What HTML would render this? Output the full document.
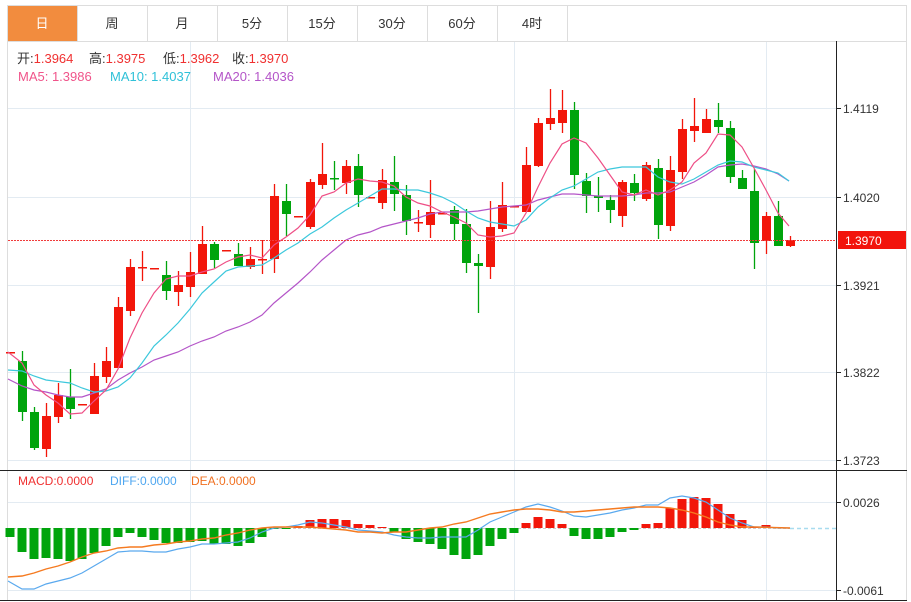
<!DOCTYPE html>
<html><head><meta charset="utf-8"><style>
body{margin:0;background:#fff;width:911px;height:602px;overflow:hidden;font-family:"Liberation Sans","Noto Sans CJK SC",sans-serif;}
svg{position:absolute;left:0;top:0}
</style></head><body>
<svg id="s" width="911" height="602" xmlns="http://www.w3.org/2000/svg" font-family="Liberation Sans, Noto Sans CJK SC, sans-serif">
<rect x="7.5" y="5.5" width="899" height="36" fill="#fff" stroke="#ddd"/>
<rect x="8" y="6" width="69" height="35" fill="#f28c3e"/>
<g stroke="#ddd"><line x1="77.5" y1="5" x2="77.5" y2="41"/><line x1="147.5" y1="5" x2="147.5" y2="41"/><line x1="217.5" y1="5" x2="217.5" y2="41"/><line x1="287.5" y1="5" x2="287.5" y2="41"/><line x1="357.5" y1="5" x2="357.5" y2="41"/><line x1="427.5" y1="5" x2="427.5" y2="41"/><line x1="497.5" y1="5" x2="497.5" y2="41"/><line x1="567.5" y1="5" x2="567.5" y2="41"/></g>
<g font-size="13" text-anchor="middle" fill="#333"><text x="42" y="28" fill="#fff">日</text><text x="112" y="28">周</text><text x="182" y="28">月</text><text x="252" y="28">5分</text><text x="322" y="28">15分</text><text x="392" y="28">30分</text><text x="462" y="28">60分</text><text x="532" y="28">4时</text></g>
<line x1="7.5" y1="41" x2="7.5" y2="600" stroke="#ddd"/>
<line x1="906.5" y1="41" x2="906.5" y2="600" stroke="#ddd"/>
<g stroke="#e3ebf2"><line x1="8" y1="108.5" x2="836" y2="108.5"/><line x1="8" y1="197.5" x2="836" y2="197.5"/><line x1="8" y1="285.5" x2="836" y2="285.5"/><line x1="8" y1="372.5" x2="836" y2="372.5"/><line x1="8" y1="460.5" x2="836" y2="460.5"/><line x1="8" y1="502.5" x2="836" y2="502.5"/><line x1="8" y1="590.5" x2="836" y2="590.5"/>
<line x1="190.5" y1="42" x2="190.5" y2="600"/><line x1="514.5" y1="42" x2="514.5" y2="600"/><line x1="766.5" y1="42" x2="766.5" y2="600"/></g>
<line x1="8" y1="528.5" x2="790" y2="528.5" stroke="#ccc" stroke-dasharray="3,2"/>
<line x1="790" y1="528.5" x2="836" y2="528.5" stroke="#a8dcef" stroke-width="1.5" stroke-dasharray="4,3"/>
<g id="g"></g>
<line x1="8" y1="240.5" x2="836" y2="240.5" stroke="#f03c3c" stroke-dasharray="2,1"/>
<line x1="0" y1="470.5" x2="907" y2="470.5" stroke="#222"/>
<line x1="0" y1="600.5" x2="907" y2="600.5" stroke="#222"/>
<line x1="836.5" y1="41" x2="836.5" y2="601" stroke="#222"/>
<g stroke="#222"><line x1="836" y1="108.5" x2="841" y2="108.5"/><line x1="836" y1="197.5" x2="841" y2="197.5"/><line x1="836" y1="285.5" x2="841" y2="285.5"/><line x1="836" y1="372.5" x2="841" y2="372.5"/><line x1="836" y1="460.5" x2="841" y2="460.5"/><line x1="836" y1="502.5" x2="841" y2="502.5"/><line x1="836" y1="590.5" x2="841" y2="590.5"/></g>
<g font-size="12" fill="#333"><text x="843" y="113">1.4119</text><text x="843" y="202">1.4020</text><text x="843" y="290">1.3921</text><text x="843" y="377">1.3822</text><text x="843" y="465">1.3723</text><text x="843" y="507">0.0026</text><text x="843" y="595">-0.0061</text></g>
<rect x="838" y="231" width="68" height="18" fill="#f2140c"/>
<text x="845" y="245" font-size="12" fill="#fff">1.3970</text>
<g font-size="13">
<text x="17" y="63" fill="#333">开:<tspan fill="#f03030">1.3964</tspan></text>
<text x="89" y="63" fill="#333">高:<tspan fill="#f03030">1.3975</tspan></text>
<text x="163" y="63" fill="#333">低:<tspan fill="#f03030">1.3962</tspan></text>
<text x="232" y="63" fill="#333">收:<tspan fill="#f03030">1.3970</tspan></text>
<text x="18" y="81" fill="#f0548a">MA5: 1.3986</text>
<text x="110" y="81" fill="#2fc1d8">MA10: 1.4037</text>
<text x="213" y="81" fill="#b455c8">MA20: 1.4036</text>
</g>
<g font-size="12">
<text x="18" y="485" fill="#f03030">MACD:0.0000</text>
<text x="110" y="485" fill="#4da6f0">DIFF:0.0000</text>
<text x="191" y="485" fill="#f07020">DEA:0.0000</text>
</g>
</svg>
<script>
var R="#f2160a",G="#00a40c";
var C=[[352,353,352,353,R],[361,412,351,421,G],[412,448,407,450,G],[416,449,403,457,R],[395,417,383,423,R],[397,409,369,419,G],[404,405,404,405,R],[376,414,363,414,R],[361,377,347,383,R],[307,368,297,368,R],[267,311,259,316,R],[267,268,251,281,R],[268,269,268,269,R],[275,291,261,300,G],[285,292,271,306,R],[272,287,252,297,R],[244,274,226,274,R],[244,260,242,268,G],[250,251,250,251,R],[254,266,243,266,G],[259,267,247,269,R],[259,260,240,274,R],[196,259,184,273,R],[201,214,184,236,G],[216,217,216,217,R],[182,227,179,229,R],[174,185,143,189,R],[178,179,161,190,G],[166,183,160,194,R],[166,195,154,207,G],[197,198,197,198,R],[180,203,169,209,R],[182,194,156,211,G],[195,221,185,235,G],[222,223,210,232,R],[212,225,180,238,R],[213,214,213,214,R],[210,224,206,240,G],[224,263,209,273,G],[263,266,254,313,G],[227,267,201,279,R],[205,229,182,232,R],[206,207,206,207,R],[165,212,147,212,R],[123,166,118,167,R],[118,124,89,130,R],[110,123,90,133,R],[110,175,102,189,G],[181,196,173,213,G],[196,198,177,212,G],[200,210,195,223,G],[182,216,180,227,R],[183,193,174,201,G],[165,199,162,201,R],[168,225,159,239,G],[170,226,156,231,R],[129,172,119,179,R],[126,131,98,142,R],[119,133,109,133,R],[120,127,103,133,G],[128,177,121,183,G],[178,189,170,189,G],[191,243,169,269,G],[216,241,212,254,R],[216,246,201,246,G],[240,246,236,247,R]];
var M=[537,552,559,558,559,561,559,553,546,537,533,537,540,543,543,542,541,544,544,546,543,537,529,529,526,520,519,519,520,524,525,527,532,539,542,544,549,555,559,555,546,539,533,523,517,519,524,536,539,539,537,532,530,524,523,508,499,497,498,504,514,520,527,525,527];
function pl(a){var s="";for(var i=0;i<a.length;i+=2)s+=a[i]+","+a[i+1]+" ";return s;}
var MA5=[8,352,22,363,34,385,46,395,58,403,70,414,82,413,94,401,106,390,118,369,130,338,142,313,154,293,166,279,178,276,190,276,202,272,214,269,226,262,238,257,250,255,262,258,274,245,286,237,298,228,310,215,322,196,334,192,346,183,358,179,370,181,382,182,394,186,406,197,418,203,430,206,442,212,454,217,466,223,478,235,490,237,502,236,514,233,526,213,538,187,550,163,562,144,574,138,586,143,598,158,610,175,622,192,634,195,646,190,658,195,670,190,682,182,694,163,706,153,718,134,730,135,742,147,754,168,766,190,778,213,789,226];
var MA10=[8,370,22,371,34,376,46,380,70,383,82,388,94,392,106,391,118,387,130,378,142,363,154,346,166,335,178,323,190,309,202,293,214,282,226,271,238,267,250,266,262,265,274,258,286,250,298,243,310,234,322,227,334,218,346,210,358,203,370,196,382,189,394,189,406,190,418,190,430,193,442,197,454,203,466,211,478,218,490,222,502,224,514,226,526,220,538,207,550,198,562,190,574,186,586,179,598,172,610,169,622,167,634,167,646,167,658,177,670,182,682,184,694,179,706,172,718,165,730,161,742,162,754,167,766,170,778,173,789,181];
var MA20=[8,379,22,386,34,390,46,392,58,395,70,397,82,397,94,393,106,389,118,380,130,373,142,367,154,360,166,356,178,352,190,346,202,341,214,337,226,331,238,327,250,322,262,315,274,303,286,293,298,283,310,272,322,260,334,250,346,240,358,235,370,232,382,227,394,224,406,221,418,218,430,214,442,212,454,212,466,212,478,211,490,209,502,207,514,206,526,205,538,200,550,197,562,194,574,194,586,195,598,196,610,196,622,196,634,195,646,193,658,193,670,192,682,187,694,182,706,175,718,167,730,165,742,164,754,166,766,169,778,174,789,181];
var DIF=[8,581,22,589,34,589,46,584,58,581,70,578,82,573,94,566,106,559,118,552,130,551,142,551,154,552,166,552,178,549,190,547,202,544,214,544,226,543,238,542,250,538,262,532,274,528,286,527,298,525,310,522,322,523,334,525,346,527,358,530,370,531,382,532,394,535,406,537,418,538,430,538,442,537,454,537,466,537,478,530,490,522,502,517,514,512,526,507,538,504,550,507,562,511,574,516,586,517,598,515,610,513,622,510,634,508,646,505,658,505,670,498,682,496,694,498,706,502,718,510,730,518,742,523,754,527,766,527,778,528,790,528];
var DEA=[8,577,22,576,34,573,46,569,58,566,70,562,82,557,94,553,106,551,118,548,130,547,142,547,154,545,166,544,178,542,190,541,202,539,214,538,226,535,238,533,250,530,262,528,274,527,286,527,298,527,310,527,322,528,334,529,346,530,358,532,370,532,382,533,394,532,406,532,418,530,430,528,442,527,454,524,466,522,478,518,490,514,502,512,514,510,526,509,538,509,550,510,562,512,574,512,586,511,598,510,610,509,622,508,634,507,646,507,658,507,670,508,682,510,694,513,706,517,718,522,730,525,742,527,754,527,790,528];
var h="";
for(var i=0;i<M.length;i++){var x=10+12*i,y=M[i],c=y>528?G:R;var t=Math.min(y,528),hh=Math.max(1,Math.abs(y-528));h+='<rect x="'+(x-4.5)+'" y="'+t+'" width="9" height="'+hh+'" fill="'+c+'"/>';}
for(var i=0;i<C.length;i++){var d=C[i],x=10+12*i;h+='<line x1="'+(x+0.5)+'" y1="'+d[2]+'" x2="'+(x+0.5)+'" y2="'+d[3]+'" stroke="'+d[4]+'" stroke-width="1.3"/>';h+='<rect x="'+(x-4)+'" y="'+d[0]+'" width="9" height="'+Math.max(1.5,d[1]-d[0])+'" fill="'+d[4]+'"/>';}
h+='<polyline points="'+pl(MA20)+'" fill="none" stroke="#b455c8" stroke-width="1.2"/>';
h+='<polyline points="'+pl(MA10)+'" fill="none" stroke="#3cc8dc" stroke-width="1.2"/>';
h+='<polyline points="'+pl(MA5)+'" fill="none" stroke="#ee4f86" stroke-width="1.2"/>';
h+='<polyline points="'+pl(DIF)+'" fill="none" stroke="#5aa9ee" stroke-width="1.2"/>';
h+='<polyline points="'+pl(DEA)+'" fill="none" stroke="#f57a20" stroke-width="1.4"/>';
document.getElementById("g").innerHTML=h;
</script>
</body></html>
